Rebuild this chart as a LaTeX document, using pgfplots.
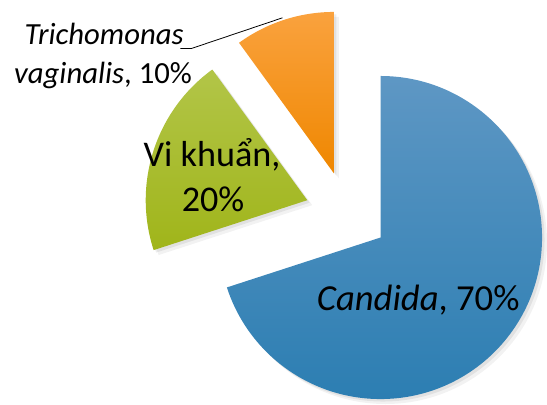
\documentclass[border=0pt]{standalone}
\usepackage{pgfplots}
\pgfplotsset{compat=1.18}
\usepackage{pgfplotstable}
\usepackage{fontspec}
\setmainfont{Carlito}
\definecolor{bluetop}{RGB}{94,151,196}
\definecolor{bluebot}{RGB}{44,126,178}
\definecolor{greentop}{RGB}{178,197,72}
\definecolor{greenbot}{RGB}{160,181,26}
\definecolor{orangetop}{RGB}{250,162,62}
\definecolor{orangebot}{RGB}{239,135,0}

% shares in percent, drawn clockwise from 12 o'clock
\pgfplotstableread{
share name
70 Candida
20 Vikhuan
10 Trichomonas
}\piedata

% sector path: vertex x, vertex y, start angle, end angle
\newcommand\sector[4]{(axis cs:#1,#2) -- ++(#3:163pt) arc[start angle=#3, end angle=#4, radius=163pt] -- cycle}

\begin{document}
\begin{tikzpicture}
\pgfplotstablegetelem{0}{share}\of\piedata \pgfmathsetmacro\sA{\pgfplotsretval}
\pgfplotstablegetelem{1}{share}\of\piedata \pgfmathsetmacro\sB{\pgfplotsretval}
\pgfplotstablegetelem{2}{share}\of\piedata \pgfmathsetmacro\sC{\pgfplotsretval}
% angles
\pgfmathsetmacro\aA{90}
\pgfmathsetmacro\bA{\aA-3.6*\sA}
\pgfmathsetmacro\bB{\bA-3.6*\sB}
\pgfmathsetmacro\bC{\bB-3.6*\sC}
% exploded vertices (centre 350,189; offset 42)
\pgfmathsetmacro\xA{350+42*cos((\aA+\bA)/2)}
\pgfmathsetmacro\yA{189+42*sin((\aA+\bA)/2)}
\pgfmathsetmacro\xB{350+42*cos((\bA+\bB)/2)}
\pgfmathsetmacro\yB{189+42*sin((\bA+\bB)/2)}
\pgfmathsetmacro\xC{350+42*cos((\bB+\bC)/2)}
\pgfmathsetmacro\yC{189+42*sin((\bB+\bC)/2)}
\begin{axis}[
  x=1pt, y=1pt,
  xmin=0, xmax=547, ymin=0, ymax=404,
  hide axis, clip=false,
]
\path (axis cs:0,0) rectangle (axis cs:547,404);
% soft shadows
\fill[black,opacity=0.05,shift={(5pt,-5pt)}] \sector{\xA}{\yA}{\aA}{\bA};
\fill[black,opacity=0.05,shift={(5pt,-5pt)}] \sector{\xB}{\yB}{\bA}{\bB};
\fill[black,opacity=0.05,shift={(5pt,-5pt)}] \sector{\xC}{\yC}{\bB}{\bC};
\fill[black,opacity=0.07,shift={(2.5pt,-2.5pt)}] \sector{\xA}{\yA}{\aA}{\bA};
\fill[black,opacity=0.07,shift={(2.5pt,-2.5pt)}] \sector{\xB}{\yB}{\bA}{\bB};
\fill[black,opacity=0.07,shift={(2.5pt,-2.5pt)}] \sector{\xC}{\yC}{\bB}{\bC};
\shade[top color=bluetop, bottom color=bluebot] \sector{\xA}{\yA}{\aA}{\bA};
\shade[top color=greentop, bottom color=greenbot] \sector{\xB}{\yB}{\bA}{\bB};
\shade[top color=orangetop, bottom color=orangebot] \sector{\xC}{\yC}{\bB}{\bC};

% labels
\node[anchor=base, font=\fontsize{37}{40}\selectfont] at (axis cs:422,91) {\textit{Candida}, 70\%};
\node[anchor=base, font=\fontsize{36.5}{40}\selectfont] at (axis cs:214,236) {Vi khuẩn,};
\node[anchor=base, font=\fontsize{36.5}{40}\selectfont] at (axis cs:215,191) {20\%};
\node[anchor=base, font=\fontsize{31}{36}\selectfont] at (axis cs:105,359) {\textit{Trichomonas}};
\node[anchor=base, font=\fontsize{31}{36}\selectfont] at (axis cs:104,320) {\textit{vaginalis}, 10\%};
\draw[black, line width=0.8pt] (axis cs:182,355) -- (axis cs:193,355) -- (axis cs:285,386);
\end{axis}
\end{tikzpicture}
\end{document}
